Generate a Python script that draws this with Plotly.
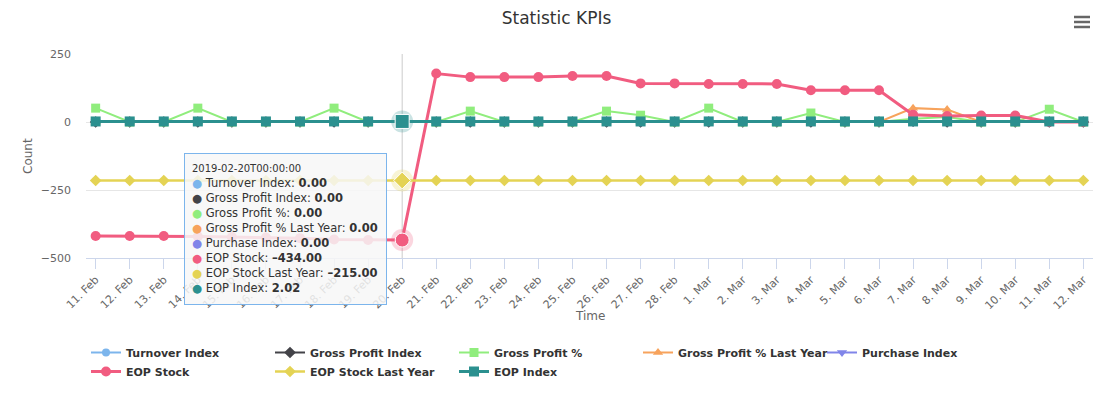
import pandas as pd
import plotly.graph_objects as go

# ---------------- data ----------------
dates = pd.date_range("2019-02-11", "2019-03-12", freq="D")
tick_labels = [f"{d.day}. {d:%b}" for d in dates]

turnover_index = [0]*24 + [5, 0, 0, 0, 0, 0]
gross_profit_index = [0]*24 + [3, 0, 0, 0, 0, 0]
gross_profit_pct = [51, 0, 0, 51, 0, 0, 0, 51, 0, 0,
                    0, 40, 0, 0, 0, 40, 25, 0, 51, 0,
                    0, 33, 0, 0, 12, 18, 0, 0, 47, 0]
gross_profit_pct_ly = [0]*24 + [51, 46, 0, 0, 0, 0]
purchase_index = [0]*30
eop_stock = [-419, -419, -419, -421, -423, -425, -427, -432, -434, -434,
             178, 165, 165, 165, 169, 169, 142, 142, 140, 140,
             140, 117, 117, 117, 27, 22, 24, 24, 0, 0]
eop_stock_ly = [-215]*30
eop_index = [2.02]*30

series = [
    ("Turnover Index", turnover_index, "#7cb5ec", "circle", 8, 2),
    ("Gross Profit Index", gross_profit_index, "#434348", "diamond", 9, 2),
    ("Gross Profit %", gross_profit_pct, "#90ed7d", "square", 9, 2),
    ("Gross Profit % Last Year", gross_profit_pct_ly, "#f7a35c", "triangle-up", 9, 2),
    ("Purchase Index", purchase_index, "#8085e9", "triangle-down", 9, 2),
    ("EOP Stock", eop_stock, "#f15c80", "circle", 10, 3),
    ("EOP Stock Last Year", eop_stock_ly, "#e4d354", "diamond", 9, 2.5),
    ("EOP Index", eop_index, "#2b908f", "square", 10, 3),
]
hover_idx = 9  # 20 Feb

# ---------------- geometry helpers ----------------
W, H = 1113, 394
L, R, T, B = 86, 20, 54, 136
PW, PH = W - L - R, H - T - B


def xp(px):
    return (px - L) / PW


def yp(py):
    return (H - B - py) / PH


FONT = "DejaVu Sans"

fig = go.Figure()
for name, vals, col, sym, size, lw in series:
    fig.add_trace(go.Scatter(
        x=dates, y=vals, name=name, mode="lines+markers",
        line=dict(color=col, width=lw),
        marker=dict(color=col, symbol=sym, size=size),
        hoverinfo="skip",
    ))

# hover halos + enlarged hover markers
hx = [dates[hover_idx]]
for name, vals, col, sym, size, lw in series:
    if name in ("EOP Stock", "EOP Stock Last Year", "EOP Index"):
        fig.add_trace(go.Scatter(
            x=hx, y=[vals[hover_idx]], mode="markers", showlegend=False,
            hoverinfo="skip",
            marker=dict(color=col, opacity=0.25, size=22, symbol="circle"),
        ))
        fig.add_trace(go.Scatter(
            x=hx, y=[vals[hover_idx]], mode="markers", showlegend=False,
            hoverinfo="skip",
            marker=dict(color=col, size=size + 4, symbol=sym,
                        line=dict(color="#ffffff", width=1)),
        ))

# crosshair
fig.add_shape(type="line", xref="x", yref="paper",
              x0=dates[hover_idx], x1=dates[hover_idx], y0=0, y1=1,
              line=dict(color="#cccccc", width=1), layer="below")

# hamburger menu
for py in (17, 22, 27):
    fig.add_shape(type="line", xref="paper", yref="paper",
                  x0=xp(1074), x1=xp(1090), y0=yp(py), y1=yp(py),
                  line=dict(color="#666666", width=2.5))


def fmt(v):
    return f"{v:.2f}".replace("-", "\u2013")


lines = ["<span style='font-size:10px'>"
         + dates[hover_idx].strftime("%Y-%m-%dT%H:%M:%S") + "</span>"]
for name, vals, col, sym, size, lw in series:
    lines.append(f"<span style='color:{col}'>\u25cf</span> {name}: <b>{fmt(vals[hover_idx])}</b>")

fig.add_annotation(
    xref="paper", yref="paper", x=xp(184), y=yp(153),
    xanchor="left", yanchor="top", showarrow=False, align="left",
    valign="middle", width=187, height=136,
    text="<br>".join(lines),
    font=dict(family=FONT, size=11.5, color="#333333"),
    bgcolor="rgba(247,247,247,0.85)", bordercolor="#7cb5ec",
    borderwidth=1, borderpad=7,
)

# axis titles
fig.add_annotation(xref="paper", yref="paper", x=xp(589.5), y=yp(316),
                   xanchor="center", yanchor="middle", showarrow=False,
                   text="Time", font=dict(family=FONT, size=12, color="#666666"))
fig.add_annotation(xref="paper", yref="paper", x=xp(28), y=yp(156),
                   xanchor="center", yanchor="middle", showarrow=False,
                   textangle=-90,
                   text="Count", font=dict(family=FONT, size=12, color="#666666"))

pad = pd.Timedelta(hours=6.8)
fig.update_layout(
    width=W, height=H,
    margin=dict(l=L, r=R, t=T, b=B, autoexpand=False),
    paper_bgcolor="#ffffff", plot_bgcolor="#ffffff",
    font=dict(family=FONT, color="#666666", size=11),
    title=dict(text="Statistic KPIs", x=0.5, xref="container",
               y=1 - 18 / H, yref="container", yanchor="middle",
               font=dict(family=FONT, size=17, color="#333333")),
    xaxis=dict(
        type="date", range=[dates[0] - pad, dates[-1] + pad],
        tickvals=list(dates), ticktext=tick_labels, tickangle=-45,
        ticks="outside", ticklen=10, tickcolor="#ccd6eb",
        showline=True, linecolor="#ccd6eb", linewidth=1,
        showgrid=False, zeroline=False, automargin=False,
        tickfont=dict(size=11, color="#666666"),
    ),
    yaxis=dict(
        range=[-500, 250], tickvals=[-500, -250, 0, 250],
        showgrid=True, gridcolor="#e6e6e6", gridwidth=1,
        zeroline=False, showline=False, ticklabelstandoff=14,
        automargin=False,
        tickfont=dict(size=11, color="#666666"),
    ),
    legend=dict(
        orientation="h", x=xp(86), y=yp(338), xanchor="left", yanchor="top",
        entrywidth=139, entrywidthmode="pixels",
        font=dict(family=FONT, size=11, color="#333333", weight="bold"),
        bgcolor="rgba(0,0,0,0)",
    ),
    hovermode=False,
)

fig.write_html("out.html", config={"displayModeBar": False},
               post_script="document.body.style.margin='0';")
